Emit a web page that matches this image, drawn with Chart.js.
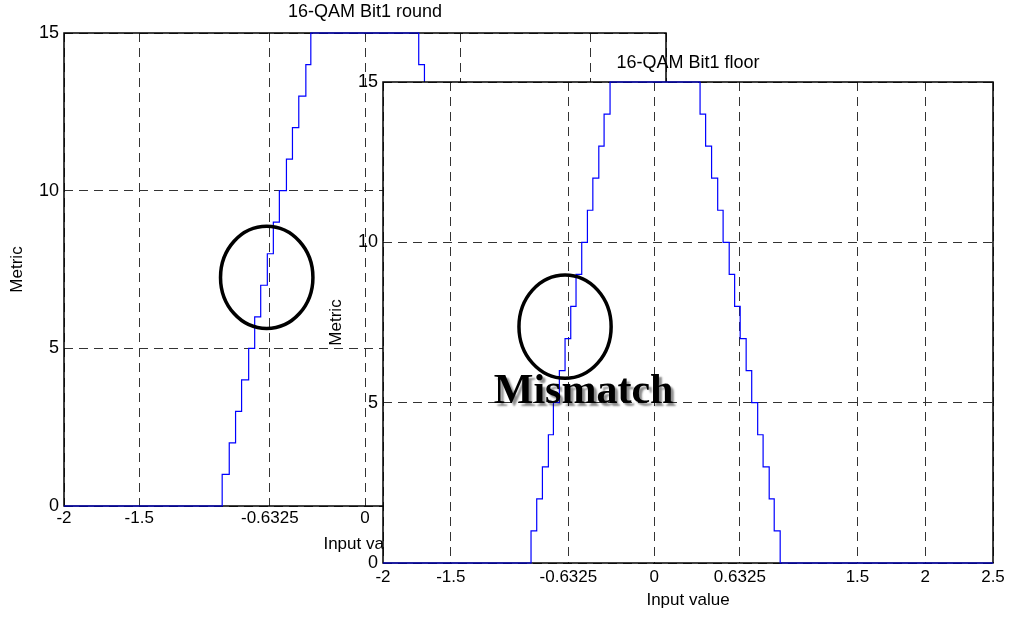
<!DOCTYPE html>
<html>
<head>
<meta charset="utf-8">
<script src="https://cdn.jsdelivr.net/npm/chart.js@4.4.1/dist/chart.umd.min.js"></script>
<style>
body { margin: 0; background: #fff; }
canvas { position: absolute; left: 0; top: 0; }
</style>
</head>
<body>
<canvas id="roundChart" width="1009" height="617"></canvas>
<canvas id="floorChart" width="1009" height="617"></canvas>
<script>
const xTicksRound = [-2, -1.5, -0.6325, 0, 0.6325, 1.5, 2];
const xTicksFloor = [-2, -1.5, -0.6325, 0, 0.6325, 1.5, 2, 2.5];
const yTicks = [0, 5, 10, 15];
const levels = [0, 1, 2, 3, 4, 5, 6, 7, 8, 9, 10, 11, 12, 13, 14, 15];

// input value where the metric steps up to levels 1..15
const roundRise = [-0.949, -0.902, -0.860, -0.820, -0.773, -0.733, -0.693, -0.649, -0.609, -0.569, -0.522, -0.482, -0.440, -0.393, -0.360];
// input value where it steps back down, 15 -> 0
const roundFall = [0.357, 0.395, 0.440, 0.482, 0.522, 0.569, 0.609, 0.649, 0.693, 0.733, 0.773, 0.820, 0.860, 0.902, 0.949];

const floorRise = [-0.908, -0.866, -0.824, -0.780, -0.743, -0.699, -0.657, -0.615, -0.576, -0.534, -0.492, -0.452, -0.408, -0.369, -0.325];
const floorFall = [0.339, 0.380, 0.424, 0.469, 0.509, 0.554, 0.594, 0.635, 0.679, 0.720, 0.764, 0.804, 0.849, 0.886, 0.930];

// circled areas + label, in data units
const roundRing = { x: -0.653, y: 7.25, rx: 0.307, ry: 1.62 };
const floorRing = { x: -0.657, y: 7.37, rx: 0.34, ry: 1.61 };
const mismatchAt = { x: -0.52, y: 4.98 };

Chart.defaults.font.family = "'Liberation Sans', Arial, sans-serif";
Chart.defaults.font.size = 17;
Chart.defaults.color = '#000';

function stairs(rise, fall, xmin, xmax) {
    const pts = [{ x: xmin, y: levels[0] }];
    rise.forEach((x, i) => pts.push({ x: x, y: levels[i + 1] }));
    fall.forEach((x, i) => pts.push({ x: x, y: levels[14 - i] }));
    pts.push({ x: xmax, y: levels[0] });
    return pts;
}

function axisBox(fillWhite) {
    return {
        id: 'axisBox',
        beforeDraw(chart) {
            if (!fillWhite) return;
            const a = chart.chartArea;
            chart.ctx.save();
            chart.ctx.fillStyle = '#fff';
            chart.ctx.fillRect(a.left, a.top, a.width, a.height);
            chart.ctx.restore();
        },
        beforeDatasetsDraw(chart) {
            const a = chart.chartArea;
            const ctx = chart.ctx;
            ctx.save();
            ctx.strokeStyle = '#000';
            ctx.lineWidth = 1.5;
            ctx.strokeRect(a.left, a.top, a.width, a.height);
            ctx.restore();
        }
    };
}

function ring(r) {
    return {
        id: 'ring',
        afterDraw(chart) {
            const sx = chart.scales.x, sy = chart.scales.y;
            const px = sx.getPixelForValue(r.x), py = sy.getPixelForValue(r.y);
            const rx = Math.abs(sx.getPixelForValue(r.x + r.rx) - px);
            const ry = Math.abs(sy.getPixelForValue(r.y + r.ry) - py);
            const ctx = chart.ctx;
            ctx.save();
            ctx.strokeStyle = '#000';
            ctx.lineWidth = 3.5;
            ctx.beginPath();
            ctx.ellipse(px, py, rx, ry, 0, 0, Math.PI * 2);
            ctx.stroke();
            ctx.restore();
        }
    };
}

const mismatchLabel = {
    id: 'mismatch',
    afterDraw(chart) {
        const ctx = chart.ctx;
        const px = chart.scales.x.getPixelForValue(mismatchAt.x);
        const py = chart.scales.y.getPixelForValue(mismatchAt.y);
        ctx.save();
        ctx.font = "bold 42px 'Liberation Serif', 'Times New Roman', serif";
        ctx.textAlign = 'center';
        ctx.textBaseline = 'alphabetic';
        ctx.shadowColor = 'rgba(0,0,0,0.45)';
        ctx.shadowOffsetX = 3;
        ctx.shadowOffsetY = 3;
        ctx.shadowBlur = 2;
        ctx.fillStyle = '#000';
        ctx.fillText('Mismatch', px, py);
        ctx.restore();
    }
};

function scalesFor(xTicks, xmax, yWidth, xHeight, o) {
    const grid = { color: '#333', lineWidth: 1, drawTicks: false };
    const border = { display: false, dash: [9, 6] };
    return {
        x: {
            type: 'linear', min: -2, max: xmax,
            afterBuildTicks: a => { a.ticks = xTicks.map(v => ({ value: v })); },
            afterFit: s => { s.height = xHeight; },
            ticks: { autoSkip: false, maxRotation: 0, padding: o.xPad, callback: v => String(v) },
            grid: grid, border: border,
            title: { display: true, text: 'Input value', padding: { top: 0, bottom: o.xTitle } }
        },
        y: {
            type: 'linear', min: 0, max: 15,
            afterBuildTicks: a => { a.ticks = yTicks.map(v => ({ value: v })); },
            afterFit: s => { s.width = yWidth; },
            ticks: { autoSkip: false, padding: 5, font: { size: 18 }, callback: v => String(v) },
            grid: grid, border: border,
            title: { display: true, text: 'Metric', padding: { top: o.yTitle, bottom: 0 } }
        }
    };
}

new Chart(document.getElementById('roundChart'), {
    type: 'line',
    data: {
        datasets: [{
            data: stairs(roundRise, roundFall, -2, 2),
            borderColor: '#0000ff', borderWidth: 1.2,
            pointRadius: 0, stepped: 'before', clip: false
        }]
    },
    options: {
        responsive: false,
        animation: false,
        layout: { padding: { left: 0, right: 343, top: 0, bottom: 0 } },
        plugins: {
            legend: { display: false },
            tooltip: { enabled: false },
            title: {
                display: true, text: '16-QAM Bit1 round', fullSize: false,
                font: { size: 18, weight: 'normal' }, color: '#000',
                padding: { top: 1, bottom: 10.4 }
            }
        },
        scales: scalesFor(xTicksRound, 2, 64, 111, { xPad: 2, xTitle: 62, yTitle: 7 })
    },
    plugins: [axisBox(false), ring(roundRing)]
});

new Chart(document.getElementById('floorChart'), {
    type: 'line',
    data: {
        datasets: [{
            data: stairs(floorRise, floorFall, -2, 2.5),
            borderColor: '#0000ff', borderWidth: 1.2,
            pointRadius: 0, stepped: 'before', clip: false
        }]
    },
    options: {
        responsive: false,
        animation: false,
        layout: { padding: { left: 320, right: 16, top: 0, bottom: 0 } },
        plugins: {
            legend: { display: false },
            tooltip: { enabled: false },
            title: {
                display: true, text: '16-QAM Bit1 floor', fullSize: false,
                font: { size: 18, weight: 'normal' }, color: '#000',
                padding: { top: 52, bottom: 8.4 }
            }
        },
        scales: scalesFor(xTicksFloor, 2.5, 63, 54, { xPad: 4, xTitle: 6, yTitle: 6 })
    },
    plugins: [axisBox(true), ring(floorRing), mismatchLabel]
});
</script>
</body>
</html>
